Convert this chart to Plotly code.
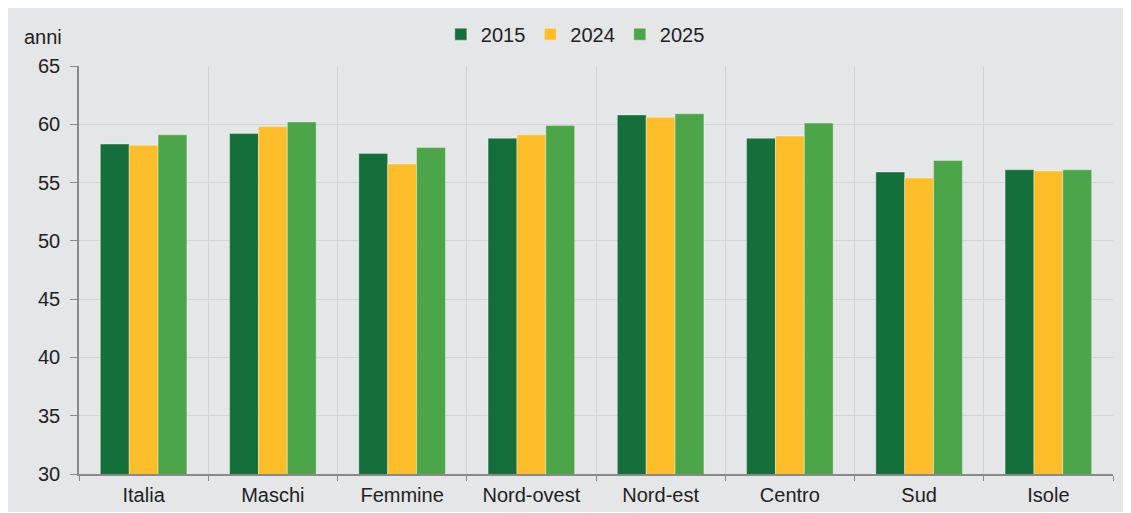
import plotly.graph_objects as go

categories = ['Italia', 'Maschi', 'Femmine', 'Nord-ovest', 'Nord-est', 'Centro', 'Sud', 'Isole']
v2015 = [58.3, 59.2, 57.5, 58.8, 60.8, 58.8, 55.9, 56.1]
v2024 = [58.2, 59.8, 56.6, 59.1, 60.6, 59.0, 55.4, 56.0]
v2025 = [59.1, 60.2, 58.0, 59.9, 60.9, 60.1, 56.9, 56.1]

series = [('2015', v2015, '#156F3A'), ('2024', v2024, '#FDBE2A'), ('2025', v2025, '#4DA54A')]

FONT = 'Liberation Sans, Arial, sans-serif'
BG = '#E5E6E8'

fig = go.Figure()
for name, vals, col in series:
    fig.add_trace(go.Bar(
        x=categories, y=vals, name=name,
        marker=dict(color=col, line=dict(color='rgba(255,255,255,0.35)', width=1)),
    ))

# page has an 8px body margin, so the figure starts at (8, 8)
fig.update_layout(
    width=1123, height=504,
    margin=dict(l=71, r=18, t=58, b=38, autoexpand=False),
    paper_bgcolor=BG,
    plot_bgcolor=BG,
    barmode='group',
    bargap=0.33,
    bargroupgap=0,
    font=dict(family=FONT, size=20, color='#222222'),
    showlegend=True,
    legend=dict(orientation='h', x=0.48, xanchor='center', y=1.078, yanchor='middle',
                bgcolor='rgba(0,0,0,0)', font=dict(size=20), traceorder='normal',
                itemwidth=30),
    annotations=[dict(text='anni', xref='paper', yref='paper', x=-0.055, y=1.071,
                      xanchor='left', yanchor='middle', showarrow=False, font=dict(size=20))],
)

fig.update_yaxes(range=[30, 65], dtick=5, showgrid=True, gridcolor='#D4D5D8', gridwidth=1,
                 showline=True, linecolor='#8A8A8A', linewidth=1.5, ticks='outside', ticklen=7,
                 tickcolor='#8A8A8A', zeroline=False, automargin=False, ticklabelstandoff=6)
fig.update_xaxes(showgrid=True, gridcolor='#D4D5D8', gridwidth=1, tickson='boundaries',
                 showline=True, linecolor='#8A8A8A', linewidth=1.5, ticks='outside', ticklen=5,
                 tickcolor='#8A8A8A', automargin=False, ticklabelstandoff=2)

fig.write_html('out.html')
